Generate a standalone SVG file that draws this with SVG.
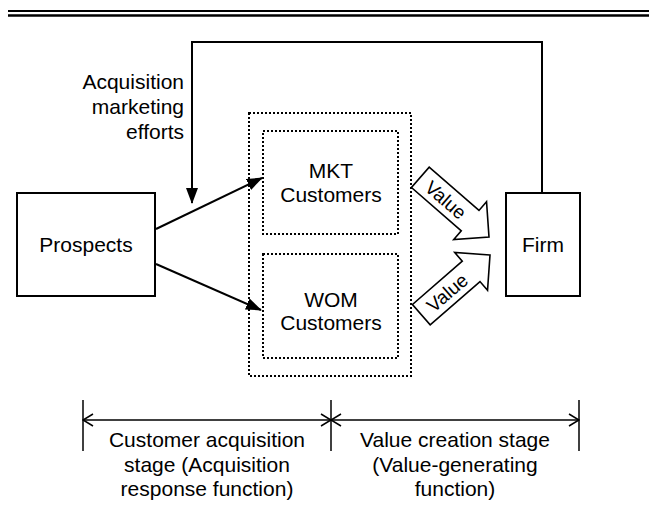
<svg xmlns="http://www.w3.org/2000/svg" width="649" height="506" viewBox="0 0 649 506">
<defs>
<marker id="ah" viewBox="0 0 16 12" refX="15" refY="6" markerWidth="16" markerHeight="12" markerUnits="userSpaceOnUse" orient="auto">
<path d="M0,0 L16,6 L0,12 z" fill="#000"/>
</marker>
<marker id="open" viewBox="0 0 12 14" refX="11" refY="7" markerWidth="12" markerHeight="14" markerUnits="userSpaceOnUse" orient="auto-start-reverse">
<path d="M1,1 L11,7 L1,13" fill="none" stroke="#000" stroke-width="1.5"/>
</marker>
</defs>
<style>
text{font-family:"Liberation Sans",Arial,Helvetica,sans-serif;font-size:21px;fill:#000}
.box{fill:#fff;stroke:#000;stroke-width:2}
.dot{fill:none;stroke:#000;stroke-width:2;stroke-dasharray:2 2}
.ln{fill:none;stroke:#000;stroke-width:2}
.dim{fill:none;stroke:#000;stroke-width:1.5}
.va{fill:#fff;stroke:#000;stroke-width:1.6;stroke-linejoin:miter}
.vt{font-size:19px}
</style>
<rect width="649" height="506" fill="#fff"/>
<g id="rule">
<line x1="8" y1="11" x2="649" y2="11" stroke="#000" stroke-width="2"/>
<line x1="8" y1="15.5" x2="649" y2="15.5" stroke="#000" stroke-width="2.4"/>
</g>
<g id="connectors">
<path class="ln" d="M542,193 V42 H192 V203" marker-end="url(#ah)"/>
<line class="ln" x1="156" y1="229" x2="262" y2="178" marker-end="url(#ah)"/>
<line class="ln" x1="156" y1="264" x2="261" y2="310" marker-end="url(#ah)"/>
</g>
<g id="prospects">
<rect class="box" x="17" y="193" width="138" height="103"/>
<text x="86" y="252" text-anchor="middle">Prospects</text>
</g>
<g id="acq-label">
<text x="184" y="89" text-anchor="end">Acquisition</text>
<text x="184" y="114" text-anchor="end">marketing</text>
<text x="184" y="139" text-anchor="end">efforts</text>
</g>
<g id="customers">
<rect class="dot" x="249" y="113" width="162" height="263"/>
</g>
<g id="mkt">
<rect class="dot" x="263" y="131" width="135" height="103"/>
<text x="331" y="178" text-anchor="middle">MKT</text>
<text x="331" y="202" text-anchor="middle">Customers</text>
</g>
<g id="wom">
<rect class="dot" x="263" y="254" width="135" height="104"/>
<text x="331" y="307" text-anchor="middle">WOM</text>
<text x="331" y="330" text-anchor="middle">Customers</text>
</g>
<g id="value1" transform="translate(489,237) rotate(41)">
<polygon class="va" points="0,0 -25,-25 -25,-13.5 -91,-13.5 -91,13.5 -25,13.5 -25,25"/>
<text class="vt" x="-57" y="7" text-anchor="middle">Value</text>
</g>
<g id="value2" transform="translate(490,255) rotate(-41)">
<polygon class="va" points="0,0 -25,-25 -25,-13.5 -91,-13.5 -91,13.5 -25,13.5 -25,25"/>
<text class="vt" x="-57" y="7" text-anchor="middle">Value</text>
</g>
<g id="firm">
<rect class="box" x="506" y="193" width="74" height="103"/>
<text x="543" y="252" text-anchor="middle">Firm</text>
</g>
<g id="stages">
<line class="dim" x1="83" y1="400" x2="83" y2="451"/>
<line class="dim" x1="331" y1="400" x2="331" y2="451"/>
<line class="dim" x1="579" y1="400" x2="579" y2="451"/>
<line class="dim" x1="83" y1="420" x2="331" y2="420" marker-start="url(#open)" marker-end="url(#open)"/>
<line class="dim" x1="331" y1="420" x2="579" y2="420" marker-start="url(#open)" marker-end="url(#open)"/>
<text x="207" y="447" text-anchor="middle">Customer acquisition</text>
<text x="207" y="472" text-anchor="middle">stage (Acquisition</text>
<text x="207" y="496" text-anchor="middle">response function)</text>
<text x="455" y="447" text-anchor="middle">Value creation stage</text>
<text x="455" y="472" text-anchor="middle">(Value-generating</text>
<text x="455" y="496" text-anchor="middle">function)</text>
</g>
</svg>
